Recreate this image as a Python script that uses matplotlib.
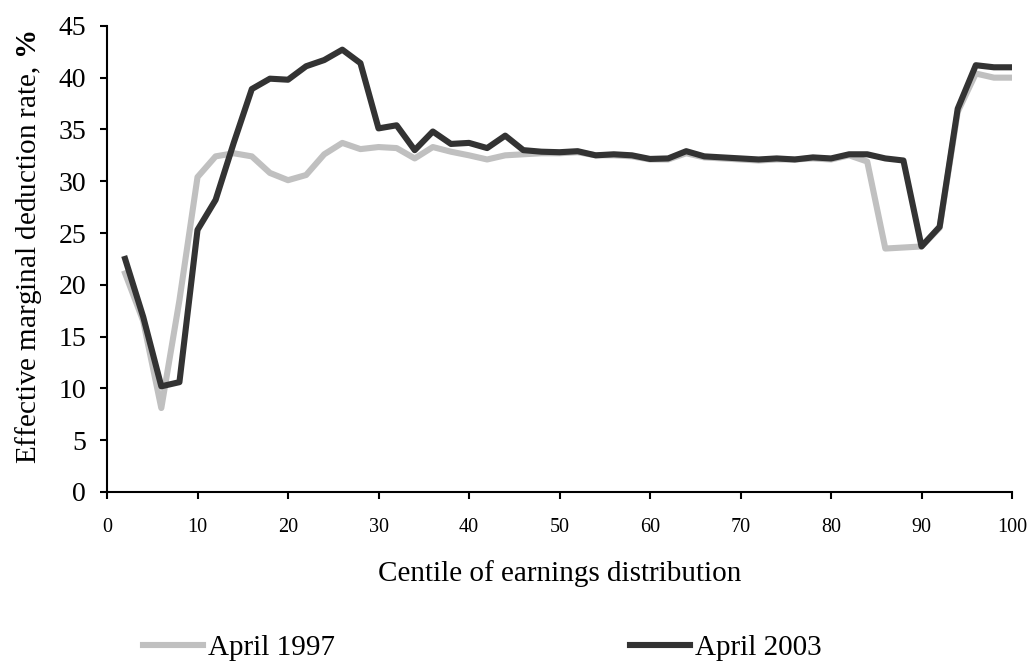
import numpy as np
import matplotlib.pyplot as plt

plt.rcParams['font.family'] = ['Liberation Serif', 'DejaVu Serif']
plt.rcParams['mathtext.fontset'] = 'custom'
plt.rcParams['mathtext.rm'] = 'Liberation Serif'
plt.rcParams['mathtext.bf'] = 'Liberation Serif:bold'

# centiles 2..100 in steps of 2
centile = list(range(2, 101, 2))

april_1997 = [21.1, 16.5, 8.1, 18.5, 30.4, 32.4, 32.7, 32.4, 30.8, 30.1,
              30.6, 32.6, 33.7, 33.1, 33.3, 33.2, 32.2, 33.3, 32.85, 32.5,
              32.1, 32.5, 32.6, 32.7, 32.7, 32.8, 32.5, 32.5, 32.4, 32.1,
              32.1, 32.7, 32.3, 32.2, 32.1, 32.0, 32.1, 32.1, 32.2, 32.1,
              32.5, 31.9, 23.5, 23.6, 23.7, 25.5, 36.7, 40.4, 40.0, 40.0]

april_2003 = [22.5, 16.9, 10.2, 10.6, 25.3, 28.2, 33.7, 38.9, 39.9, 39.8,
              41.1, 41.7, 42.7, 41.4, 35.1, 35.4, 33.0, 34.8, 33.6, 33.7,
              33.2, 34.4, 33.0, 32.85, 32.8, 32.9, 32.5, 32.6, 32.5, 32.15,
              32.2, 32.9, 32.4, 32.3, 32.2, 32.1, 32.2, 32.1, 32.3, 32.2,
              32.6, 32.6, 32.2, 32.0, 23.7, 25.6, 37.0, 41.2, 41.0, 41.0]

fig = plt.figure(figsize=(10.29, 6.63), dpi=100)
ax = fig.add_axes([0.104, 0.258, 0.8795, 0.703])

ax.plot(centile, april_1997, color='#c0c0c0', lw=4.4, label='April 1997')
ax.plot(centile, april_2003, color='#333333', lw=4.4, label='April 2003')

ax.set_xlim(0, 100)
ax.set_ylim(0, 45)
ax.set_xticks(range(0, 101, 10))
ax.set_yticks(range(0, 46, 5))
ax.tick_params(axis='x', labelsize=14.5, direction='out', length=5, width=1.5, pad=14)
ax.tick_params(axis='y', labelsize=20, direction='out', length=5, width=1.5, pad=10)
for s in ['top', 'right']:
    ax.spines[s].set_visible(False)
for s in ['left', 'bottom']:
    ax.spines[s].set_linewidth(1.5)

ax.set_xlabel('Centile of earnings distribution', fontsize=21, labelpad=16)
ax.set_ylabel(r'Effective marginal deduction rate, $\mathbf{\%}$', fontsize=21)
ax.yaxis.set_label_coords(-0.07, 0.526)

fig.legend(loc='center left', bbox_to_anchor=(143 / 1029, 1 - 648 / 663),
           ncol=2, frameon=False, fontsize=21, borderpad=0, borderaxespad=0,
           handlelength=2.06, handletextpad=0.17, columnspacing=10.1)

fig.savefig('out.png', dpi=100)
